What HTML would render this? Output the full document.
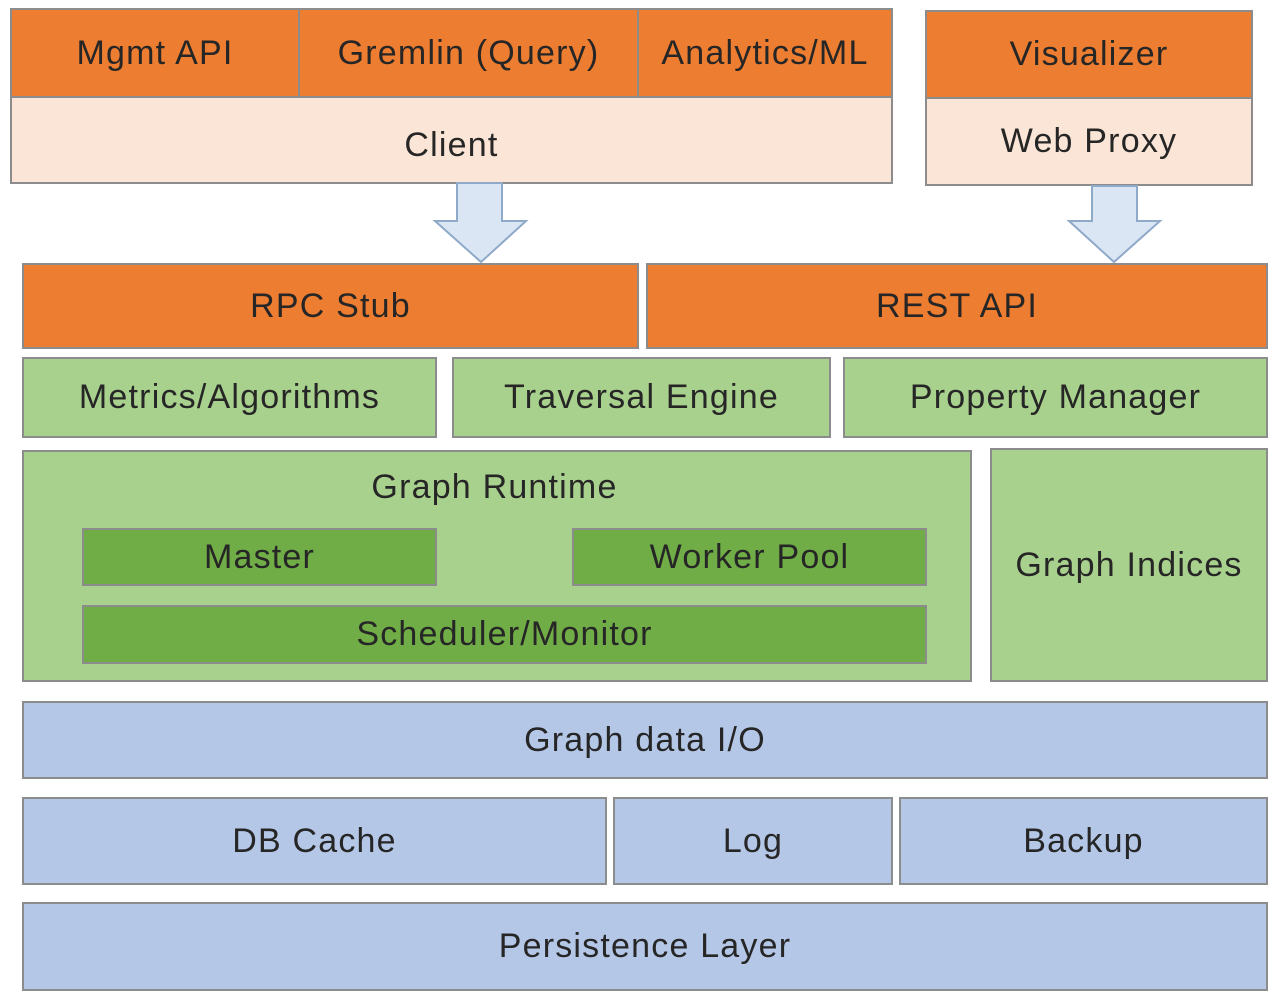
<!DOCTYPE html>
<html><head><style>
body{margin:0;width:1280px;height:1006px;background:#fff;position:relative;overflow:hidden;font-family:"Liberation Sans",sans-serif;}
.b{position:absolute;box-sizing:border-box;border:2px solid #8c8c8c;display:flex;align-items:center;justify-content:center;font-size:34px;letter-spacing:1.2px;color:#262626;white-space:nowrap;}
.o{background:#ED7D31;}
.p{background:#FBE5D6;}
.g{background:#A9D18E;}
.d{background:#70AD47;}
.u{background:#B4C7E7;}
</style></head><body>
<div class="b o" style="left:10px;top:8px;width:290px;height:90px">Mgmt API</div>
<div class="b o" style="left:298px;top:8px;width:341px;height:90px">Gremlin (Query)</div>
<div class="b o" style="left:637px;top:8px;width:256px;height:90px">Analytics/ML</div>
<div class="b p" style="left:10px;top:96px;width:883px;height:88px;padding-top:10px">Client</div>
<div class="b o" style="left:925px;top:10px;width:328px;height:89px">Visualizer</div>
<div class="b p" style="left:925px;top:97px;width:328px;height:89px">Web Proxy</div>
<svg style="position:absolute;left:0;top:0" width="1280" height="270">
<polygon points="457,183 502,183 502,221 526,221 481,262 435,221 457,221" fill="#DAE6F4" stroke="#8fa9c9" stroke-width="2"/>
<polygon points="1092,186 1137,186 1137,221 1160,221 1114,262 1069,221 1092,221" fill="#DAE6F4" stroke="#8fa9c9" stroke-width="2"/>
</svg>
<div class="b o" style="left:22px;top:263px;width:617px;height:86px">RPC Stub</div>
<div class="b o" style="left:646px;top:263px;width:622px;height:86px">REST API</div>
<div class="b g" style="left:22px;top:357px;width:415px;height:81px">Metrics/Algorithms</div>
<div class="b g" style="left:452px;top:357px;width:379px;height:81px">Traversal Engine</div>
<div class="b g" style="left:843px;top:357px;width:425px;height:81px">Property Manager</div>
<div class="b g" style="left:22px;top:450px;width:950px;height:232px;align-items:flex-start;padding-top:16px"><span style="margin-left:-5px">Graph Runtime</span></div>
<div class="b d" style="left:82px;top:528px;width:355px;height:58px">Master</div>
<div class="b d" style="left:572px;top:528px;width:355px;height:58px">Worker Pool</div>
<div class="b d" style="left:82px;top:605px;width:845px;height:59px">Scheduler/Monitor</div>
<div class="b g" style="left:990px;top:448px;width:278px;height:234px">Graph Indices</div>
<div class="b u" style="left:22px;top:701px;width:1246px;height:78px">Graph data I/O</div>
<div class="b u" style="left:22px;top:797px;width:585px;height:88px">DB Cache</div>
<div class="b u" style="left:613px;top:797px;width:280px;height:88px">Log</div>
<div class="b u" style="left:899px;top:797px;width:369px;height:88px">Backup</div>
<div class="b u" style="left:22px;top:902px;width:1246px;height:89px">Persistence Layer</div>
</body></html>
